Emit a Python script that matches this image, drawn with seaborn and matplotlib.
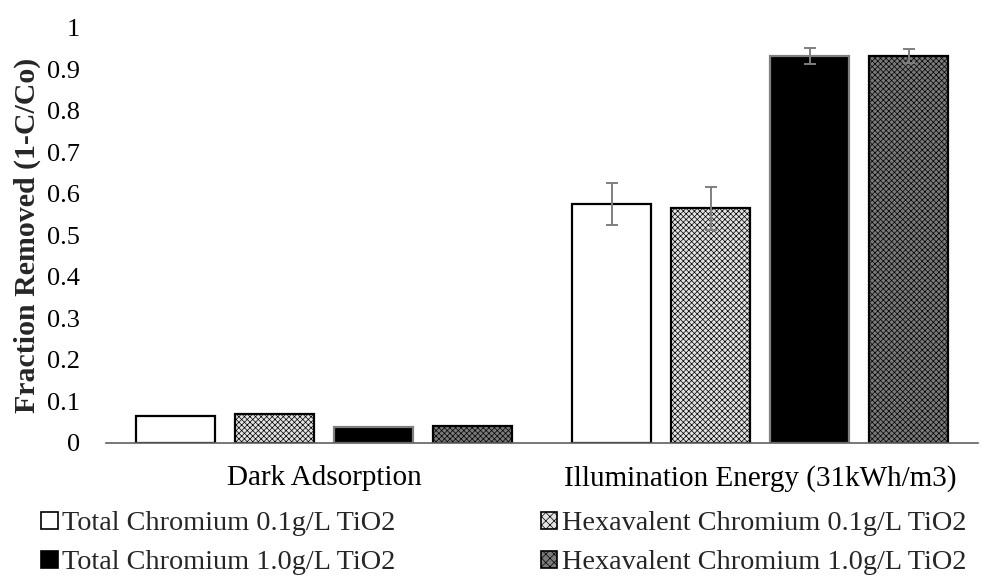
import matplotlib
matplotlib.use("Agg")
import matplotlib.pyplot as plt
import seaborn as sns
import pandas as pd

# Conditions along the x axis
conditions = ["Dark Adsorption", "Illumination Energy (31kWh/m3)"]

# Series (hue) labels
series = [
    "Total Chromium 0.1g/L TiO2",
    "Hexavalent Chromium 0.1g/L TiO2",
    "Total Chromium 1.0g/L TiO2",
    "Hexavalent Chromium 1.0g/L TiO2",
]

# Fraction removed per series, one value per condition
total_01 = [0.065, 0.575]
hexa_01 = [0.070, 0.565]
total_10 = [0.039, 0.932]
hexa_10 = [0.040, 0.932]

# Standard deviations (dark adsorption has none reported)
err_total_01 = [0.0, 0.051]
err_hexa_01 = [0.0, 0.052]
err_total_10 = [0.0, 0.019]
err_hexa_10 = [0.0, 0.018]

y_ticks = [0, 0.1, 0.2, 0.3, 0.4, 0.5, 0.6, 0.7, 0.8, 0.9, 1]
y_tick_labels = ["0", "0.1", "0.2", "0.3", "0.4", "0.5", "0.6", "0.7", "0.8", "0.9", "1"]

values = [total_01, hexa_01, total_10, hexa_10]
errors = [err_total_01, err_hexa_01, err_total_10, err_hexa_10]

rows = []
for s, vals, errs in zip(series, values, errors):
    for c, v, e in zip(conditions, vals, errs):
        rows.append({"Condition": c, "Series": s, "Fraction": v, "Err": e})
df = pd.DataFrame(rows)

sns.set_theme(style="white")
plt.rcParams["font.family"] = ["Liberation Serif", "DejaVu Serif"]
plt.rcParams["hatch.linewidth"] = 0.5

fig = plt.figure(figsize=(9.82, 5.79), dpi=100)
ax = fig.add_axes([0.108, 0.235, 0.888, 0.717])

faces = ["#ffffff", "#e2e2e2", "#000000", "#7a7a7a"]
edges = ["#000000", "#000000", "#808080", "#000000"]
hatches = [None, "xxxxxx", None, "xxxxxx"]

sns.barplot(data=df, x="Condition", y="Fraction", hue="Series",
            hue_order=series, order=conditions, palette=faces,
            width=0.908, gap=0.2, errorbar=None, ax=ax, legend=True)

# Style each series' bars and attach its error bars
bar_groups = list(ax.containers)
for i, cont in enumerate(bar_groups):
    for j, patch in enumerate(cont.patches):
        patch.set_edgecolor(edges[i])
        patch.set_linewidth(1.6)
        if hatches[i]:
            patch.set_hatch(hatches[i])
        e = errors[i][j]
        if e > 0:
            xc = patch.get_x() + patch.get_width() / 2
            ax.errorbar(xc, patch.get_height(), yerr=e, fmt="none",
                        ecolor="#7f7f7f", elinewidth=1.4, capsize=4,
                        capthick=1.4, zorder=5)

ax.set_ylim(0, 1)
ax.set_xlim(-0.5, 1.5)
ax.set_yticks(y_ticks)
ax.set_yticklabels(y_tick_labels)
ax.tick_params(axis="y", length=0, pad=19, labelsize=19, colors="#000000")
ax.tick_params(axis="x", length=0, pad=16, labelsize=21, colors="#000000")
ax.set_xlabel("")
ax.set_ylabel("Fraction Removed (1-C/Co)", fontsize=21.5, fontweight="bold",
              labelpad=4)

for side in ["top", "right", "left"]:
    ax.spines[side].set_visible(False)
ax.spines["bottom"].set_color("#606060")
ax.spines["bottom"].set_linewidth(1.2)

# Legend below the axes: Total series on the left, Hexavalent on the right
handles, labels = ax.get_legend_handles_labels()
ax.get_legend().remove()
for h, k in zip(handles, range(len(handles))):
    h.set_edgecolor("#000000")
    h.set_linewidth(1.2)
    if hatches[k]:
        h.set_hatch("xxxx")

legend_kw = dict(loc="upper left", ncol=1, frameon=False, fontsize=20.3,
                 handlelength=0.58, handleheight=0.58, handletextpad=0.17,
                 labelspacing=0.5, borderaxespad=0, borderpad=0)
fig.legend([handles[0], handles[2]], [labels[0], labels[2]],
           bbox_to_anchor=(0.042, 0.117), **legend_kw)
fig.legend([handles[1], handles[3]], [labels[1], labels[3]],
           bbox_to_anchor=(0.551, 0.117), **legend_kw)

fig.savefig("out.png", dpi=100)
